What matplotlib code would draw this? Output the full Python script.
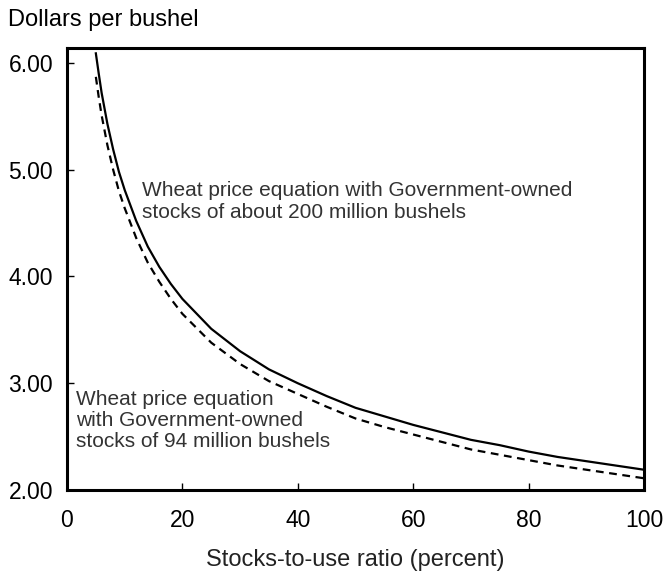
import matplotlib.pyplot as plt

plt.rcParams['font.family'] = ['Liberation Sans', 'DejaVu Sans']

# Stocks-to-use ratio (percent)
ratio = [5, 5.5, 6, 7, 8, 9, 10, 12, 14, 16, 18, 20, 25, 30, 35, 40, 45, 50,
         55, 60, 65, 70, 75, 80, 85, 90, 95, 100]
# Price, Government-owned stocks about 200 million bushels (solid)
price_200 = [6.09, 5.90, 5.72, 5.43, 5.19, 4.98, 4.81, 4.52, 4.28, 4.09, 3.93, 3.79,
             3.51, 3.30, 3.13, 3.00, 2.88, 2.77, 2.69, 2.61, 2.54, 2.47, 2.42, 2.36,
             2.31, 2.27, 2.23, 2.19]
# Price, Government-owned stocks of 94 million bushels (dashed)
price_94 = [5.87, 5.68, 5.51, 5.23, 5.00, 4.80, 4.64, 4.36, 4.13, 3.95, 3.79, 3.65,
            3.38, 3.18, 3.02, 2.90, 2.78, 2.67, 2.59, 2.52, 2.45, 2.38, 2.33, 2.28,
            2.23, 2.19, 2.15, 2.11]

x_ticks = [0, 20, 40, 60, 80, 100]
y_ticks = [2, 3, 4, 5, 6]
y_labels = ['2.00', '3.00', '4.00', '5.00', '6.00']

fig = plt.figure(figsize=(6.66, 5.75), dpi=100)
ax = fig.add_axes([0.1006, 0.1478, 0.8664, 0.7687])

ax.plot(ratio, price_200, color='black', linewidth=1.6)
ax.plot(ratio, price_94, color='black', linewidth=1.6, linestyle=(0, (3.5, 2.5)))

ax.set_xlim(0, 100)
ax.set_ylim(2.0, 6.14)
ax.set_xticks(x_ticks)
ax.set_yticks(y_ticks)
ax.set_yticklabels(y_labels)
ax.tick_params(direction='in', length=5, width=1, labelsize=16.5, colors='black')
ax.tick_params(axis='x', pad=14)
ax.tick_params(axis='y', pad=10)
for s in ax.spines.values():
    s.set_linewidth(2.2)

ax.set_xlabel('Stocks-to-use ratio (percent)', fontsize=17, labelpad=12, color='#222222')
fig.text(0.012, 0.966, 'Dollars per bushel', fontsize=17, va='center', ha='left')

ax.text(13.0, 4.89, 'Wheat price equation with Government-owned\nstocks of about 200 million bushels',
        fontsize=15, color='#333333', va='top', ha='left', linespacing=1.15)
ax.text(1.5, 2.94, 'Wheat price equation\nwith Government-owned\nstocks of 94 million bushels',
        fontsize=15, color='#333333', va='top', ha='left', linespacing=1.15)

fig.savefig('out.png', dpi=100)
